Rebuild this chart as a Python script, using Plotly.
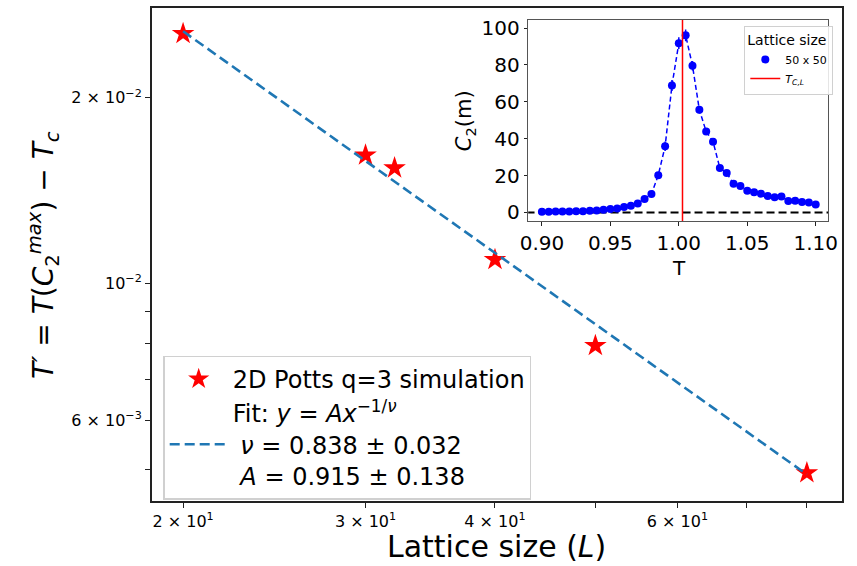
import numpy as np
import plotly.graph_objects as go

# ---- finite-size scaling data (main panel) ----
lattice_L = [20, 30, 32, 40, 50, 80]
t_prime = [0.02541, 0.01615, 0.01539, 0.01093, 0.00793, 0.00493]
fit_A = 0.915
fit_A_err = 0.138
fit_nu = 0.838
fit_nu_err = 0.032

x_tickvals = [20, 30, 40, 50, 60, 70, 80]
x_ticktext = ["2 × 10<sup>1</sup>", "3 × 10<sup>1</sup>", "4 × 10<sup>1</sup>", "",
              "6 × 10<sup>1</sup>", "", ""]
y_tickvals = [0.005, 0.006, 0.007, 0.008, 0.009, 0.01, 0.02]
y_ticktext = ["", "6 × 10<sup>−3</sup>", "", "", "", "10<sup>−2</sup>", "2 × 10<sup>−2</sup>"]

# ---- C2(m) vs T for the 50 x 50 lattice (inset) ----
temps = [0.900, 0.905, 0.910, 0.915, 0.920, 0.925, 0.930, 0.935, 0.940, 0.945,
         0.950, 0.955, 0.960, 0.965, 0.970, 0.975, 0.980, 0.985, 0.990, 0.995,
         1.000, 1.005, 1.010, 1.015, 1.020, 1.025, 1.030, 1.035, 1.040, 1.045,
         1.050, 1.055, 1.060, 1.065, 1.070, 1.075, 1.080, 1.085, 1.090, 1.095,
         1.100]
c2_vals = [0.36, 0.36, 0.5, 0.5, 0.5, 0.7, 0.7, 0.9, 1.1, 1.4,
           1.8, 2.1, 2.9, 3.6, 4.8, 7.3, 10.0, 20.2, 35.9, 68.9,
           91.8, 96.1, 79.6, 55.7, 43.9, 38.4, 24.1, 21.4, 15.5, 14.3,
           11.8, 10.9, 10.2, 8.9, 8.2, 8.6, 6.25, 6.4, 5.7, 5.4,
           4.3]
c2_errs = [0.1, 0.1, 0.1, 0.1, 0.1, 0.1, 0.1, 0.1, 0.2, 0.2,
           0.2, 0.3, 0.3, 0.4, 0.5, 0.8, 1.0, 1.8, 2.6, 3.0,
           3.2, 3.2, 2.6, 2.0, 1.5, 1.3, 1.0, 0.9, 0.7, 0.6,
           0.5, 0.5, 0.5, 0.4, 0.4, 0.4, 0.3, 0.3, 0.3, 0.3,
           0.3]
t_c_L = 1.0027

FONT = "DejaVu Sans"
W, H = 857, 566

fig = go.Figure()

# main panel: simulation points and power-law fit
fig.add_trace(go.Scatter(
    x=lattice_L, y=t_prime, mode="markers", name="2D Potts q=3 simulation",
    marker=dict(symbol="star", size=17, color="red", line=dict(width=0)),
    xaxis="x", yaxis="y", legend="legend"))

fit_x = np.geomspace(min(lattice_L), max(lattice_L), 60)
fit_y = fit_A * fit_x ** (-1.0 / fit_nu)
fit_label = ("Fit: <i>y</i> = <i>Ax</i><sup>−1/<i>ν</i></sup><br>"
             f"\u00a0<i>ν</i> = {fit_nu:.3f} ± {fit_nu_err:.3f}<br>"
             f"\u00a0<i>A</i> = {fit_A:.3f} ± {fit_A_err:.3f}")
fig.add_trace(go.Scatter(
    x=fit_x, y=fit_y, mode="lines", name=fit_label,
    line=dict(color="#1f77b4", width=2.6, dash="10px,5px"),
    xaxis="x", yaxis="y", legend="legend"))

# inset: specific-heat-like curve
fig.add_trace(go.Scatter(
    x=temps, y=c2_vals, mode="lines", showlegend=False,
    line=dict(color="blue", width=1.5, dash="5px,3px"),
    xaxis="x2", yaxis="y2"))
fig.add_trace(go.Scatter(
    x=[0.88, 1.12], y=[0, 0], mode="lines", showlegend=False,
    line=dict(color="black", width=2, dash="8px,4px"),
    xaxis="x2", yaxis="y2"))
fig.add_trace(go.Scatter(
    x=temps, y=c2_vals, mode="markers", name="50 x 50",
    marker=dict(symbol="circle", size=8, color="blue"),
    error_y=dict(type="data", array=c2_errs, color="blue", thickness=1.5, width=0),
    xaxis="x2", yaxis="y2", legend="legend2"))
fig.add_trace(go.Scatter(
    x=[t_c_L, t_c_L], y=[-10, 120], mode="lines", name="<i>T<sub>C,L</sub></i>",
    line=dict(color="red", width=1.5),
    xaxis="x2", yaxis="y2", legend="legend2"))

axis_common = dict(showgrid=False, zeroline=False, showline=True, mirror=True,
                   ticks="outside", tickcolor="#222", linecolor="#222")

fig.update_layout(
    width=W, height=H,
    margin=dict(l=0, r=0, t=0, b=0),
    paper_bgcolor="white", plot_bgcolor="white",
    font=dict(family=FONT, color="black"),
    xaxis=dict(type="log", domain=[146 / W, 852 / W],
               range=[1.2708, 1.9371], tickmode="array",
               tickvals=x_tickvals, ticktext=x_ticktext,
               tickfont=dict(size=16), ticklen=5, tickwidth=1.2,
               linewidth=1.5, anchor="y", **axis_common),
    yaxis=dict(type="log", domain=[1 - 503 / H, 1 - 4 / H],
               range=[np.log10(0.004444), np.log10(0.02797)], tickmode="array",
               tickvals=y_tickvals, ticktext=y_ticktext,
               tickfont=dict(size=16), ticklen=5, tickwidth=1.2,
               linewidth=1.5, anchor="x", **axis_common),
    xaxis2=dict(domain=[531 / W, 838 / W], range=[0.89, 1.1093],
                tickvals=[0.90, 0.95, 1.00, 1.05, 1.10],
                ticktext=["0.90", "0.95", "1.00", "1.05", "1.10"],
                tickfont=dict(size=20), ticklen=3.5, tickwidth=1,
                linewidth=1, anchor="y2", **{**axis_common, "linecolor": "#555"}),
    yaxis2=dict(domain=[1 - 220 / H, 1 - 16 / H], range=[-4.8, 104.5],
                tickvals=[0, 20, 40, 60, 80, 100],
                tickfont=dict(size=20), ticklen=3.5, tickwidth=1,
                linewidth=1, anchor="x2", **{**axis_common, "linecolor": "#555"}),
    legend=dict(x=158 / W, y=1 - 356 / H, xanchor="left", yanchor="top",
                bgcolor="rgba(255,255,255,0.85)", bordercolor="#d0d0d0",
                borderwidth=1.2, font=dict(size=24, family=FONT),
                itemwidth=58, tracegroupgap=0),
    legend2=dict(x=843 / W, y=1 - 22 / H, xanchor="right", yanchor="top",
                 bgcolor="rgba(255,255,255,0.85)", bordercolor="#d0d0d0",
                 borderwidth=1, font=dict(size=11, family=FONT),
                 title=dict(text="Lattice size", font=dict(size=14, family=FONT)),
                 itemwidth=30, tracegroupgap=0),
    showlegend=True,
    annotations=[
        dict(text="Lattice size (<i>L</i>)", x=499 / W, y=1 - 549 / H,
             xref="paper", yref="paper", showarrow=False,
             font=dict(size=30, family=FONT), xanchor="center", yanchor="middle"),
        dict(text="<i>T′</i> = <i>T</i>(<i>C</i><sub>2</sub><sup><i>max</i></sup>) − <i>T</i><sub><i>c</i></sub>",
             x=36 / W, y=1 - 254 / H, xref="paper", yref="paper", showarrow=False,
             textangle=-90, font=dict(size=28, family=FONT),
             xanchor="center", yanchor="middle"),
        dict(text="T", x=685 / W, y=1 - 267 / H, xref="paper", yref="paper",
             showarrow=False, font=dict(size=20, family=FONT),
             xanchor="center", yanchor="middle"),
        dict(text="<i>C</i><sub>2</sub>(m)", x=466 / W, y=1 - 118 / H,
             xref="paper", yref="paper", showarrow=False, textangle=-90,
             font=dict(size=21, family=FONT), xanchor="center", yanchor="middle"),
    ],
)

fig.write_html("out.html")
